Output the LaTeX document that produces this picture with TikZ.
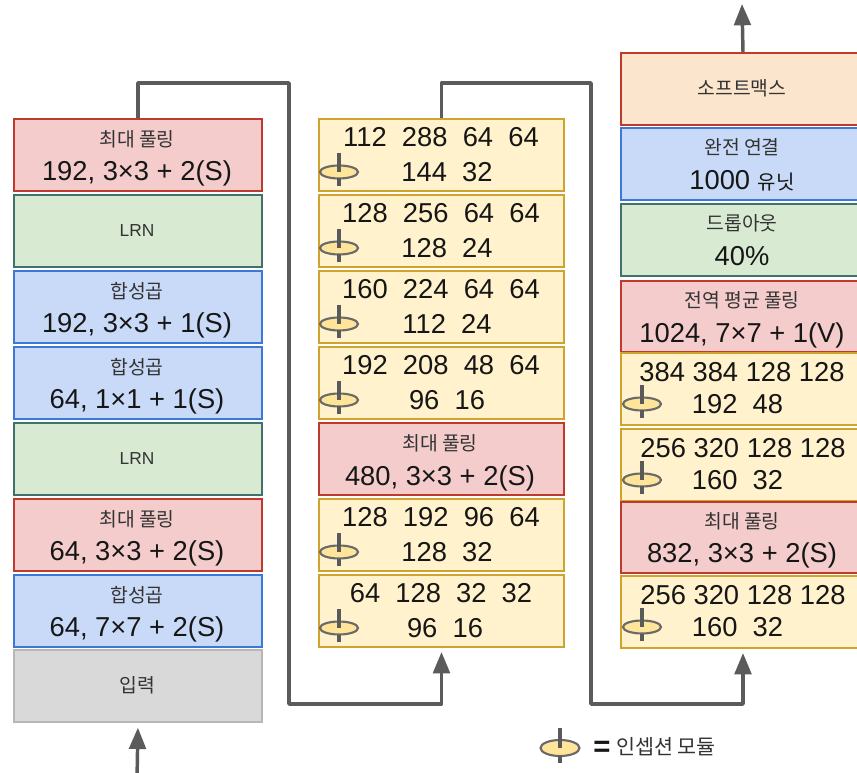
\documentclass[tikz,border=0pt]{standalone}
\usepackage{fontspec}
\setmainfont{Liberation Sans}
\newfontfamily\kr{Noto Sans CJK KR}
\usetikzlibrary{arrows.meta}
\definecolor{redF}{HTML}{F4CCCC}\definecolor{redD}{HTML}{BE3A2E}
\definecolor{greenF}{HTML}{D9EAD3}\definecolor{greenD}{HTML}{41706E}
\definecolor{blueF}{HTML}{C9DAF8}\definecolor{blueD}{HTML}{3C78D8}
\definecolor{yelF}{HTML}{FFF2CC}\definecolor{yelD}{HTML}{D0A32C}
\definecolor{grayF}{HTML}{D9D9D9}\definecolor{grayD}{HTML}{B7B7B7}
\definecolor{orF}{HTML}{FCE5CD}\definecolor{orD}{HTML}{C0392B}
\definecolor{arrC}{HTML}{5B5B5B}
\definecolor{korC}{HTML}{333333}
\definecolor{numC}{HTML}{161616}
\definecolor{iconF}{HTML}{FFE599}
\definecolor{iconD}{HTML}{6A6A6A}
\tikzset{
  boxbase/.style={draw, line width=1.5pt, inner sep=0pt, anchor=north west, minimum height=54pt},
  lcol/.style={boxbase, minimum width=186pt},
  mcol/.style={boxbase, minimum width=183.75pt},
  rcol/.style={boxbase, minimum width=183pt},
  redbox/.style={fill=redF, draw=redD},
  greenbox/.style={fill=greenF, draw=greenD},
  bluebox/.style={fill=blueF, draw=blueD},
  yelbox/.style={fill=yelF, draw=yelD},
  graybox/.style={fill=grayF, draw=grayD},
  orbox/.style={fill=orF, draw=orD},
  num/.style={font=\fontsize{20.5}{24}\selectfont, text=numC, inner sep=0pt, text height=14.7pt, text depth=0pt},
  kor/.style={font=\kr\fontsize{14.5}{17}\selectfont, text=korC, inner sep=0pt, text height=11.9pt, text depth=1.2pt},
  lat/.style={font=\fontsize{13}{16}\selectfont, text=korC, inner sep=0pt, text height=9.3pt, text depth=0pt},
  arr/.style={draw=arrC, line width=2.6pt, line join=round, -{Triangle[length=16pt,width=12.5pt]}},
  iconring/.style={draw=iconD, line width=1.6pt, fill=iconF},
  iconstem/.style={draw=iconD!85!black, line width=2.3pt},
}
\newcommand\spin[4]{% x, y, rx, ry
  \draw[iconring] (#1,#2) ellipse [x radius=#3, y radius=#4];
  \draw[iconstem] (#1,#2-19) -- (#1,#2);
  \draw[iconstem] (#1,#2+#4) -- (#1,#2+14);
}
\begin{document}
\begin{tikzpicture}[x=0.75pt,y=-0.75pt]
\clip (0,0) rectangle (857,773);
\fill[white] (0,0) rectangle (857,773);

% ---------------- left column ----------------
\node[lcol,redbox] (L1) at (13,118) {};
\node[kor] (L1a) at (137,139) {최대 풀링};
\node[num] (L1b) at (137,171) {192, 3×3 + 2(S)};
\node[lcol,greenbox] (L2) at (13,194) {};
\node[lat] (L2a) at (137,230) {LRN};
\node[lcol,bluebox] (L3) at (13,270) {};
\node[kor] (L3a) at (137,291) {합성곱};
\node[num] (L3b) at (137,323) {192, 3×3 + 1(S)};
\node[lcol,bluebox] (L4) at (13,346) {};
\node[kor] (L4a) at (137,367) {합성곱};
\node[num] (L4b) at (137,399) {64, 1×1 + 1(S)};
\node[lcol,greenbox] (L5) at (13,422) {};
\node[lat] (L5a) at (137,458) {LRN};
\node[lcol,redbox] (L6) at (13,498) {};
\node[kor] (L6a) at (137,519) {최대 풀링};
\node[num] (L6b) at (137,551) {64, 3×3 + 2(S)};
\node[lcol,bluebox] (L7) at (13,574) {};
\node[kor] (L7a) at (137,595) {합성곱};
\node[num] (L7b) at (137,627) {64, 7×7 + 2(S)};
\node[lcol,graybox] (L8) at (13,649) {};
\node[kor] (L8a) at (137,685) {입력};

% ---------------- middle column ----------------
\node[mcol,yelbox] (M1) at (318,118) {};
\node[num] (M1a) at (441,137) {112~~288~~64~~64};
\node[num] (M1b) at (447,172) {144~~32};
\spin{339}{172}{19}{6.5}
\node[mcol,yelbox] (M2) at (318,194) {};
\node[num] (M2a) at (441,213) {128~~256~~64~~64};
\node[num] (M2b) at (447,248) {128~~24};
\spin{339}{248}{19}{6.5}
\node[mcol,yelbox] (M3) at (318,270) {};
\node[num] (M3a) at (441,289) {160~~224~~64~~64};
\node[num] (M3b) at (447,324) {112~~24};
\spin{339}{324}{19}{6.5}
\node[mcol,yelbox] (M4) at (318,346) {};
\node[num] (M4a) at (441,365) {192~~208~~48~~64};
\node[num] (M4b) at (447,400) {96~~16};
\spin{339}{400}{19}{6.5}
\node[mcol,redbox] (M5) at (318,422) {};
\node[kor] (M5a) at (440,443) {최대 풀링};
\node[num] (M5b) at (440,476) {480, 3×3 + 2(S)};
\node[mcol,yelbox] (M6) at (318,498) {};
\node[num] (M6a) at (441,517) {128~~192~~96~~64};
\node[num] (M6b) at (447,552) {128~~32};
\spin{339}{552}{19}{6.5}
\node[mcol,yelbox] (M7) at (318,574) {};
\node[num] (M7a) at (441,593) {64~~128~~32~~32};
\node[num] (M7b) at (445,628) {96~~16};
\spin{339}{628}{19}{6.5}

% ---------------- right column ----------------
\node[rcol,orbox] (R1) at (620,52) {};
\node[kor] (R1a) at (742,88) {소프트맥스};
\node[rcol,bluebox] (R2) at (620,127) {};
\node[kor] (R2a) at (742,147) {완전 연결};
\node[num] (R2b) at (742,180) {1000 {\kr\fontsize{15}{17}\selectfont 유닛}};
\node[rcol,greenbox] (R3) at (620,203) {};
\node[kor] (R3a) at (742,223) {드롭아웃};
\node[num] (R3b) at (742,256) {40\%};
\node[rcol,redbox,minimum height=53.25pt] (R4) at (620,280) {};
\node[kor] (R4a) at (742,300) {전역 평균 풀링};
\node[num] (R4b) at (742,333) {1024, 7×7 + 1(V)};
\node[rcol,yelbox] (R5) at (620,352) {};
\node[num] (R5a) at (742,372) {384 384 128 128};
\node[num] (R5b) at (737.5,404) {192~~48};
\spin{642}{404}{19}{6.5}
\node[rcol,yelbox] (R6) at (620,428) {};
\node[num] (R6a) at (743,448) {256 320 128 128};
\node[num] (R6b) at (737.5,480) {160~~32};
\spin{642}{480}{19}{6.5}
\node[rcol,redbox,minimum height=53.25pt] (R7) at (620,501) {};
\node[kor] (R7a) at (742,521) {최대 풀링};
\node[num] (R7b) at (742,553) {832, 3×3 + 2(S)};
\node[rcol,yelbox] (R8) at (620,575) {};
\node[num] (R8a) at (743,595) {256 320 128 128};
\node[num] (R8b) at (737.5,627) {160~~32};
\spin{642}{627}{19}{6.5}

% ---------------- connectors ----------------
\coordinate (in) at (137,780);
\coordinate (j1) at (289,83);
\coordinate (j2) at (289,704);
\coordinate (j3) at (591,83);
\coordinate (j4) at (591,704);
\coordinate (out) at (742,4);
\draw[arr, shorten >=3.5pt] (in) -- (L8.south);
\draw[arr, shorten >=3pt] (L1.north) |- (j1) -- (j2) -| (M7.south);
\draw[arr, shorten >=3pt] (M1.north) |- (j3) -- (j4) -| (R8.south);
\draw[arr] (R1.north) -- (out);

% ---------------- legend ----------------
\draw[iconring] (560,748) ellipse [x radius=19.5, y radius=8];
\draw[iconstem] (560,728) -- (560,748);
\draw[iconstem] (560,756) -- (560,763);
\node[font=\bfseries\fontsize{22}{24}\selectfont, text=numC, inner sep=0pt] (eq) at (602,749) {=};
\node[kor, font=\kr\fontsize{15.5}{18}\selectfont, anchor=west] (legtxt) at (616,747) {인셉션 모듈};
\end{tikzpicture}
\end{document}
